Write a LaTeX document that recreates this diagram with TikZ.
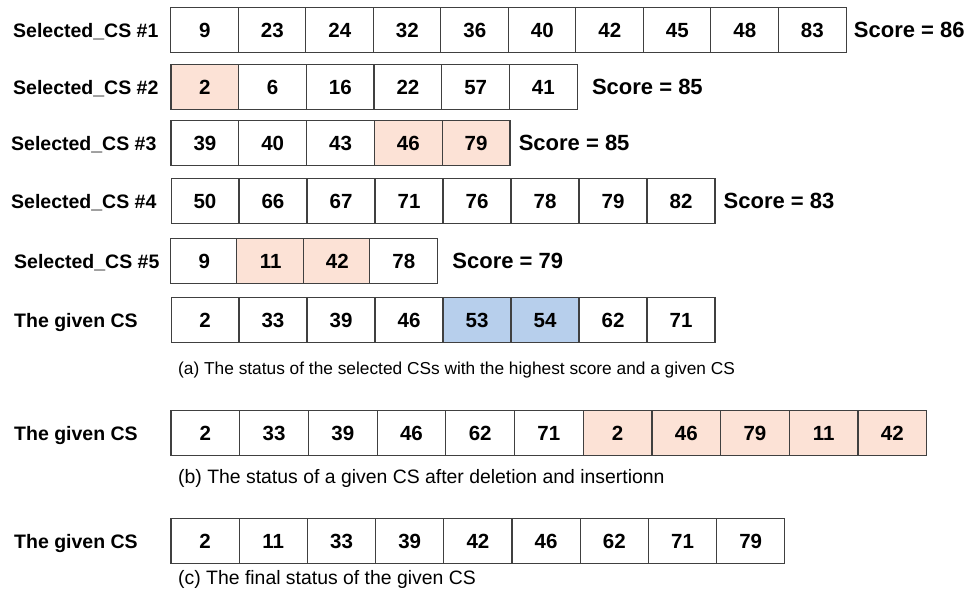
\documentclass[tikz,border=0pt]{standalone}
\usepackage{fontspec}
\setmainfont{Liberation Sans}
\usepackage{tikz}
\usetikzlibrary{positioning}
\usepackage{xcolor}
\definecolor{cellline}{HTML}{404040}
\definecolor{peach}{HTML}{FCE2D6}
\definecolor{skyblue}{HTML}{B7CFEC}

\begin{document}
\begin{tikzpicture}[
        x=1pt, y=-1pt,
        cell/.style={draw=cellline, line width=1.2pt, fill=white,
          minimum width=67.8pt, minimum height=45pt, inner sep=0pt,
          text height=14.7pt, text depth=0pt,
          font=\fontsize{20.5}{22}\selectfont\bfseries},
        cellP/.style={cell, fill=peach},
        cellB/.style={cell, fill=skyblue},
        rowlbl/.style={anchor=west, inner sep=0pt,
          text height=14pt, text depth=0pt,
          font=\fontsize{19.5}{22}\selectfont\bfseries},
        scorelbl/.style={anchor=west, inner sep=0pt,
          text height=15.8pt, text depth=0pt,
          font=\fontsize{22}{24}\selectfont\bfseries},
        caption/.style={anchor=west, inner sep=0pt,
          font=\fontsize{19.4}{21}\selectfont},
      ]
      \useasboundingbox (0,0) rectangle (972,597);

      % === (a) selected CSs ===
      \node[rowlbl] (l1) at (13,30) {Selected\_CS \#1};
      \foreach \v/\s [count=\i] in {9/cell,23/cell,24/cell,32/cell,36/cell,
          40/cell,42/cell,45/cell,48/cell,83/cell}
        \node[\s] (a\i) at ({171+(\i-0.5)*67.5},30) {\v};
      \node[scorelbl, right=7pt of a10] (sc1) {Score = 86};

      \node[rowlbl] (l2) at (13,87) {Selected\_CS \#2};
      \foreach \v/\s [count=\i] in {2/cellP,6/cell,16/cell,22/cell,57/cell,41/cell}
        \node[\s] (b\i) at ({171+(\i-0.5)*67.7},87) {\v};
      \node[scorelbl, right=14pt of b6] (sc2) {Score = 85};

      \node[rowlbl] (l3) at (11,143) {Selected\_CS \#3};
      \foreach \v/\s [count=\i] in {39/cell,40/cell,43/cell,46/cellP,79/cellP}
        \node[\s] (c\i) at ({171+(\i-0.5)*67.8},143) {\v};
      \node[scorelbl, right=8pt of c5] (sc3) {Score = 85};

      \node[rowlbl] (l4) at (11,201) {Selected\_CS \#4};
      \foreach \v/\s [count=\i] in {50/cell,66/cell,67/cell,71/cell,76/cell,
          78/cell,79/cell,82/cell}
        \node[\s] (d\i) at ({171+(\i-0.5)*68},201) {\v};
      \node[scorelbl, right=8pt of d8] (sc4) {Score = 83};

      \node[rowlbl] (l5) at (14,261) {Selected\_CS \#5};
      \foreach \v/\s [count=\i] in {9/cell,11/cellP,42/cellP,78/cell}
        \node[\s] (e\i) at ({171+(\i-0.5)*66.5},261) {\v};
      \node[scorelbl, right=14pt of e4] (sc5) {Score = 79};

      \node[rowlbl] (l6) at (14,320) {The given CS};
      \foreach \v/\s [count=\i] in {2/cell,33/cell,39/cell,46/cell,53/cellB,
          54/cellB,62/cell,71/cell}
        \node[\s] (g\i) at ({171+(\i-0.5)*68},320) {\v};
      \node[caption, font=\fontsize{17.3}{19}\selectfont] (capa) at (178,370)
        {(a) The status of the selected CSs with the highest score and a given CS};

      % === (b) after deletion and insertion ===
      \node[rowlbl] (l7) at (14,433) {The given CS};
      \foreach \v/\s [count=\i] in {2/cell,33/cell,39/cell,46/cell,62/cell,71/cell,
          2/cellP,46/cellP,79/cellP,11/cellP,42/cellP}
        \node[\s, minimum width=68.7pt] (h\i) at ({171+(\i-0.5)*68.7},433) {\v};
      \node[caption] (capb) at (178,478)
        {(b) The status of a given CS after deletion and insertionn};

      % === (c) final ===
      \node[rowlbl] (l8) at (14,541) {The given CS};
      \foreach \v/\s [count=\i] in {2/cell,11/cell,33/cell,39/cell,42/cell,46/cell,
          62/cell,71/cell,79/cell}
        \node[\s, minimum width=68.2pt] (k\i) at ({171+(\i-0.5)*68.2},541) {\v};
      \node[caption] (capc) at (178,579)
        {(c) The final status of the given CS};

      \end{tikzpicture}
\end{document}
